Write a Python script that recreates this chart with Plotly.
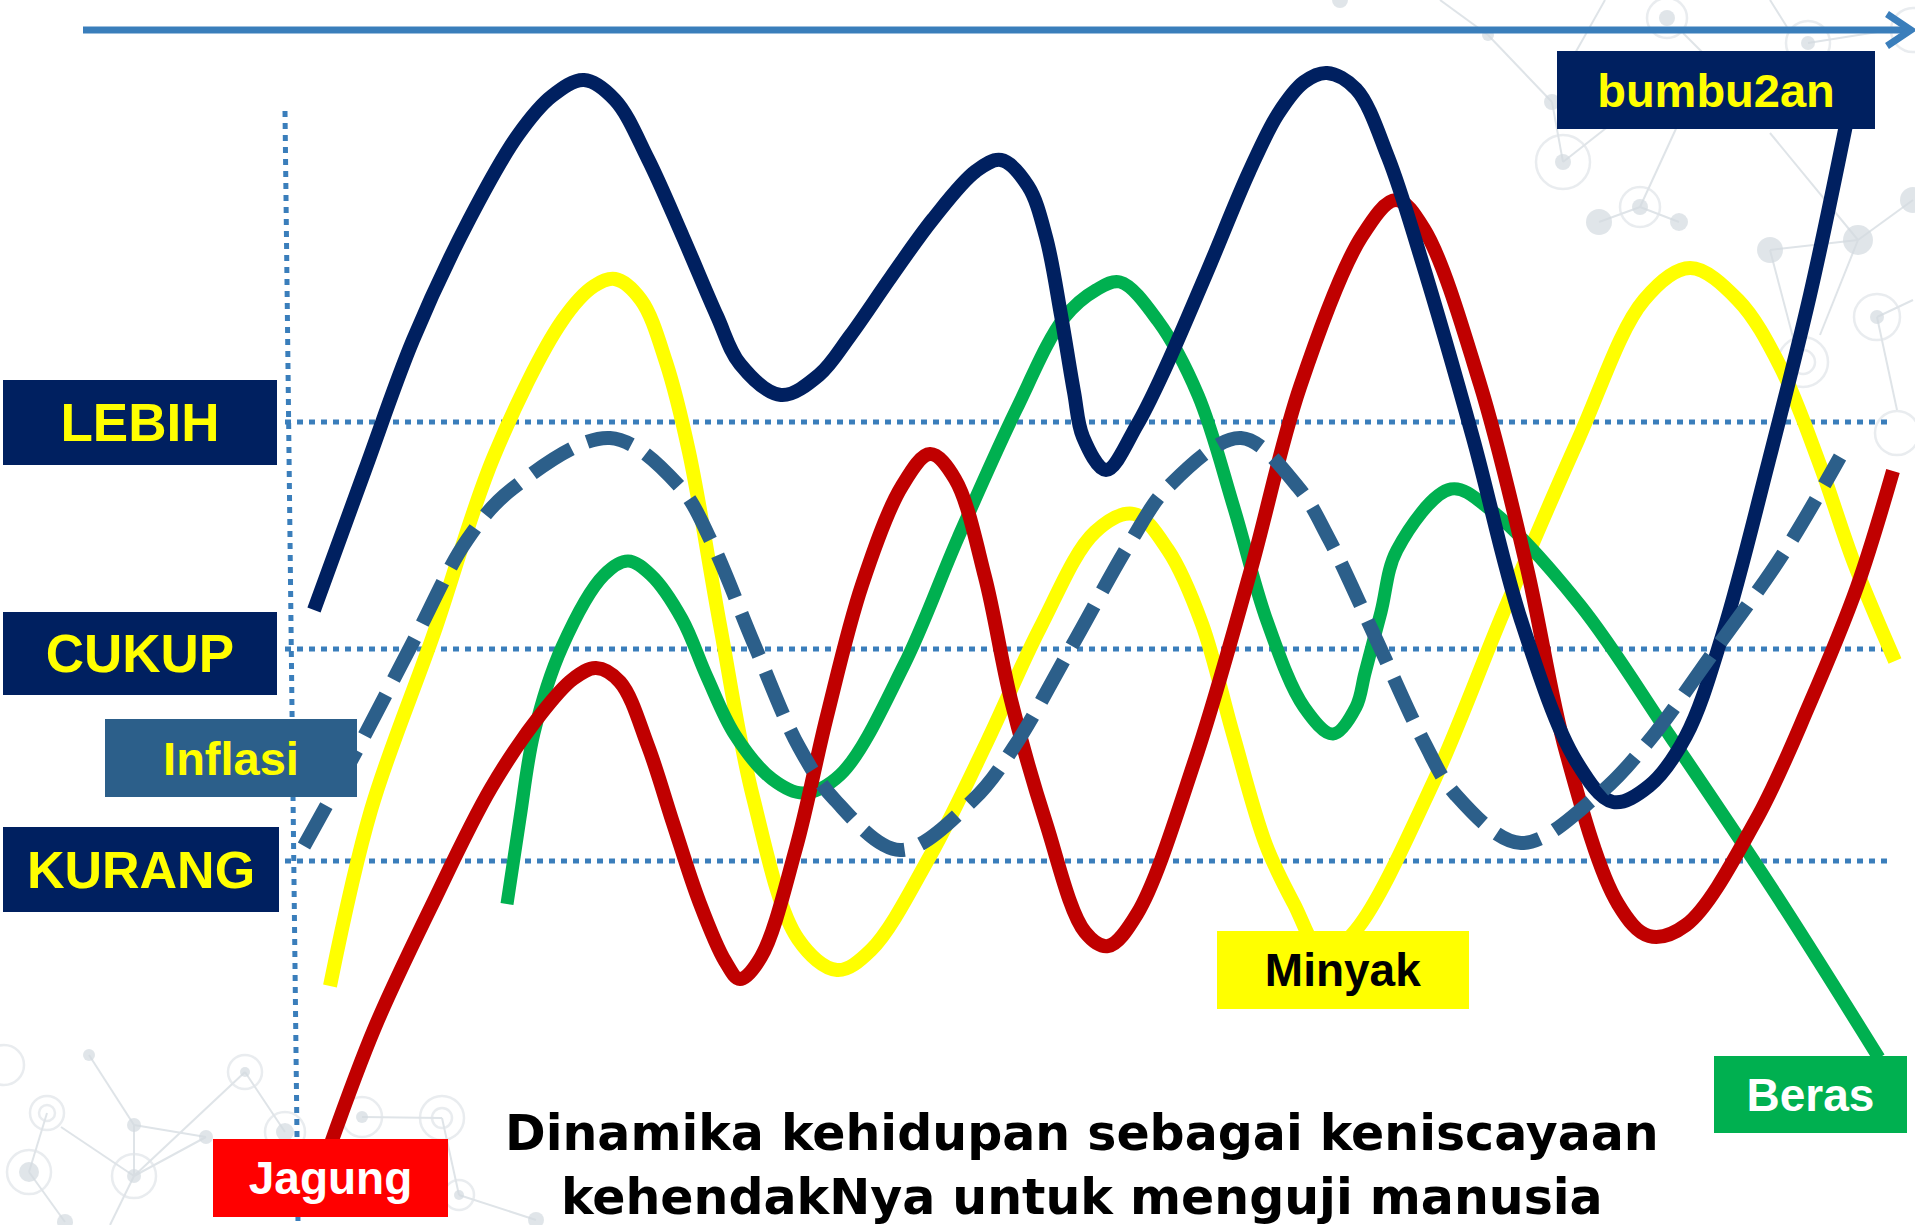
import plotly.graph_objects as go

W, H = 1915, 1225

# ---- series (x = time position, y = level position on the chart's own scale; larger y = lower level)
# points read along each wave: turning points, their shoulders, and quarter-height crossings
bumbu_x = [314, 365, 413, 469, 518, 552, 584, 615, 648, 683, 717, 740, 781, 819, 850, 891, 933, 976, 1001,
           1028, 1046, 1061, 1074, 1083, 1106, 1137, 1164, 1207, 1249, 1278, 1304, 1327, 1356, 1388, 1420,
           1473, 1521, 1576, 1613, 1649, 1686, 1723, 1768, 1810, 1846]
bumbu_y = [610, 470, 340, 220, 135, 96, 80, 100, 159, 237, 316, 364, 395, 375, 336, 277, 219, 171, 160,
           186, 237, 315, 392, 437, 470, 425, 371, 272, 172, 114, 82, 73, 89, 157, 255,
           438, 620, 761, 802, 786, 736, 633, 464, 295, 125]

minyak_x = [330, 371, 434, 494, 562, 594, 615, 641, 666, 689, 720, 753, 798, 837, 871, 930, 987, 1040,
            1095, 1134, 1168, 1202, 1233, 1266, 1294, 1324, 1356, 1433, 1504, 1578, 1644, 1690, 1738, 1780,
            1820, 1854, 1895]
minyak_y = [986, 810, 633, 456, 321, 286, 279, 300, 362, 452, 625, 797, 939, 970, 950, 856, 742, 628,
            532, 514, 550, 624, 734, 845, 904, 955, 930, 783, 611, 440, 300, 268, 300, 366,
            465, 563, 661]

beras_x = [507, 520, 534, 562, 604, 628, 651, 682, 707, 735, 772, 803, 840, 904, 958, 1016, 1064, 1096, 1120,
           1158, 1198, 1234, 1267, 1304, 1333, 1356, 1365, 1381, 1397, 1451, 1492, 1580, 1670, 1775, 1879]
beras_y = [904, 818, 733, 647, 575, 561, 575, 619, 677, 735, 779, 793, 775, 665, 538, 410, 318, 290, 282,
           321, 395, 508, 621, 707, 734, 707, 673, 612, 550, 489, 511, 605, 736, 893, 1058]

jagung_x = [330, 375, 431, 491, 541, 573, 596, 620, 648, 673, 699, 725, 740, 761, 796, 827, 862, 902, 930,
            955, 985, 1011, 1046, 1085, 1108, 1137, 1195, 1250, 1300, 1362, 1396, 1424, 1480, 1527, 1566,
            1618, 1649, 1686, 1756, 1810, 1857, 1893]
jagung_y = [1146, 1027, 907, 788, 714, 679, 668, 682, 746, 823, 901, 961, 979, 957, 848, 716, 585, 486, 454,
            479, 577, 700, 823, 932, 946, 914, 760, 573, 387, 236, 200, 229, 384, 568, 752,
            904, 936, 925, 820, 703, 587, 471]

inflasi_x = [304, 360, 413, 467, 512, 610, 680, 711, 754, 799, 835, 900, 973, 1014, 1073, 1131, 1168, 1241,
             1298, 1329, 1377, 1424, 1455, 1521, 1599, 1648, 1715, 1783, 1840]
inflasi_y = [846, 744, 642, 540, 489, 438, 487, 541, 644, 747, 800, 850, 800, 747, 644, 541, 487, 438,
             487, 539, 641, 742, 794, 843, 794, 742, 650, 554, 457]

# level reference lines
level_names = ["LEBIH", "CUKUP", "KURANG"]
level_y = [422, 649, 861]
level_x_span = [285, 1889]
time_axis_x = [285, 298]
time_axis_y = [111, 1222]

# decorative network (background)
dot_x = [1488, 1552, 1563, 1640, 1599, 1679, 1770, 1858, 1913, 1877, 1667, 1808, 1340,
         89, 134, 206, 245, 29, 134, 285, 362, 459, 536, 65]
dot_y = [35, 102, 162, 207, 222, 222, 250, 240, 200, 317, 18, 43, 0,
         1055, 1125, 1137, 1072, 1172, 1176, 1132, 1117, 1195, 1220, 1222]
dot_d = [12, 16, 16, 16, 26, 18, 26, 30, 26, 14, 16, 14, 16,
         12, 14, 14, 10, 20, 14, 18, 12, 10, 16, 16]
ring_x = [1563, 1640, 1877, 1803, 1897, 1667, 1808, 1913, 1803,
          4, 47, 245, 29, 134, 285, 362, 442, 459, 47, 442]
ring_y = [162, 207, 317, 362, 433, 18, 43, 30, 362,
          1065, 1113, 1072, 1172, 1176, 1132, 1117, 1118, 1195, 1113, 1118]
ring_d = [54, 40, 46, 50, 44, 40, 44, 44, 24,
          40, 34, 34, 44, 44, 40, 40, 44, 30, 16, 20]
edge_pairs = [((1488, 35), (1552, 102)), ((1552, 102), (1563, 162)), ((1563, 162), (1610, 125)),
              ((1599, 222), (1640, 207)), ((1640, 207), (1679, 222)), ((1640, 207), (1680, 120)),
              ((1770, 250), (1858, 240)), ((1858, 240), (1913, 200)), ((1858, 240), (1770, 133)),
              ((1770, 250), (1795, 345)), ((1858, 240), (1820, 335)), ((1877, 317), (1897, 410)),
              ((1877, 317), (1913, 300)), ((1808, 43), (1890, 30)), ((1770, 0), (1787, 27)),
              ((1683, 33), (1720, 70)), ((1605, 0), (1560, 80)), ((1440, 0), (1488, 35)),
              ((89, 1055), (134, 1125)), ((61, 1127), (134, 1176)), ((134, 1125), (206, 1137)),
              ((134, 1125), (134, 1176)), ((134, 1176), (206, 1137)), ((134, 1176), (245, 1072)),
              ((245, 1072), (285, 1132)), ((362, 1117), (442, 1118)), ((442, 1118), (459, 1195)),
              ((459, 1195), (536, 1220)), ((29, 1172), (47, 1113)), ((65, 1222), (29, 1172)),
              ((134, 1176), (110, 1225))]

# labels: text, centre, box size, box colour, text colour, font size
labels = [
    ("LEBIH", 140, 422, 274, 85, "#002060", "#FFFF00", 53),
    ("CUKUP", 140, 653, 274, 83, "#002060", "#FFFF00", 53),
    ("Inflasi", 231, 758, 252, 78, "#2C5F8A", "#FFFF00", 47),
    ("KURANG", 141, 869, 276, 85, "#002060", "#FFFF00", 52),
    ("bumbu2an", 1716, 90, 318, 78, "#002060", "#FFFF00", 47),
    ("Minyak", 1343, 970, 252, 78, "#FFFF00", "#000000", 46),
    ("Beras", 1810, 1094, 193, 77, "#00B050", "#FFFFFF", 46),
    ("Jagung", 330, 1178, 235, 78, "#FF0000", "#FFFFFF", 46),
]
caption = "Dinamika kehidupan sebagai keniscayaan<br>kehendakNya untuk menguji manusia"

AXIS_BLUE = "#3A7EBB"
DECO = "#D3DAE0"

fig = go.Figure()

# background network
ex, ey = [], []
for (x0, y0), (x1, y1) in edge_pairs:
    ex += [x0, x1, None]
    ey += [y0, y1, None]
fig.add_trace(go.Scatter(x=ex, y=ey, mode="lines", line=dict(color="#DFE4E8", width=2), hoverinfo="skip"))
fig.add_trace(go.Scatter(x=ring_x, y=ring_y, mode="markers",
                         marker=dict(symbol="circle-open", size=ring_d, color="#DFE4E8", line=dict(width=2.5, color="#DFE4E8")),
                         hoverinfo="skip"))
fig.add_trace(go.Scatter(x=dot_x, y=dot_y, mode="markers",
                         marker=dict(size=dot_d, color=DECO, line=dict(width=0)), hoverinfo="skip"))

# reference lines
for ly in level_y:
    fig.add_trace(go.Scatter(x=level_x_span, y=[ly, ly], mode="lines",
                             line=dict(color=AXIS_BLUE, width=5, dash="6px,6px"), hoverinfo="skip"))
fig.add_trace(go.Scatter(x=time_axis_x, y=time_axis_y, mode="lines",
                         line=dict(color=AXIS_BLUE, width=5, dash="6px,6px"), hoverinfo="skip"))

# series
def curve(x, y, color, width, dash="solid"):
    fig.add_trace(go.Scatter(x=x, y=y, mode="lines",
                             line=dict(color=color, width=width, shape="spline", smoothing=1.0,
                                       dash=dash, simplify=False),
                             hoverinfo="skip"))

curve(minyak_x, minyak_y, "#FFFF00", 14)
curve(beras_x, beras_y, "#00B050", 13)
curve(jagung_x, jagung_y, "#C00000", 14)
curve(bumbu_x, bumbu_y, "#002060", 14)
curve(inflasi_x, inflasi_y, "#2C5F8A", 14, dash="46px,17px")

# time arrow
fig.add_trace(go.Scatter(x=[83, 1910], y=[30, 30], mode="lines",
                         line=dict(color=AXIS_BLUE, width=7), hoverinfo="skip"))
fig.add_trace(go.Scatter(x=[1887, 1911, 1887], y=[14, 30, 46], mode="lines",
                         line=dict(color=AXIS_BLUE, width=7), hoverinfo="skip"))

# labels
for text, cx, cy, bw, bh, bg, fg, fs in labels:
    fig.add_annotation(x=cx, y=cy, xref="x", yref="y", text="<b>" + text + "</b>", showarrow=False,
                       width=bw, height=bh, bgcolor=bg, borderpad=0, borderwidth=0,
                       align="center", valign="middle",
                       font=dict(family="Liberation Sans, Arial, sans-serif", size=fs, color=fg))

fig.add_annotation(x=1082, y=1165, xref="x", yref="y", text="<b>" + caption + "</b>", showarrow=False,
                   align="center", font=dict(family="DejaVu Sans, sans-serif", size=49, color="#000000"))

fig.update_layout(
    width=W, height=H, margin=dict(l=0, r=0, t=0, b=0),
    paper_bgcolor="white", plot_bgcolor="white", showlegend=False,
    xaxis=dict(range=[0, W], visible=False, fixedrange=True),
    yaxis=dict(range=[H, 0], visible=False, fixedrange=True),
)

fig.write_html("out.html", config={"displayModeBar": False},
               post_script="document.body.style.margin='0';document.body.style.overflow='hidden';")
